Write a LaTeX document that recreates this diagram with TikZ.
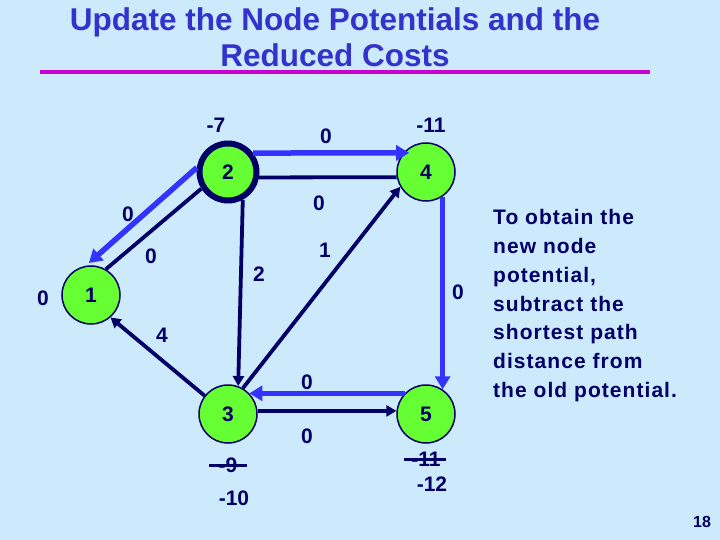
\documentclass[tikz,border=0pt]{standalone}
\usepackage{fontspec}
\setmainfont{Liberation Sans}
\usetikzlibrary{positioning,arrows.meta}
\definecolor{bgblue}{RGB}{204,234,252}
\definecolor{navy}{RGB}{0,0,102}
\definecolor{arcblue}{RGB}{51,51,255}
\definecolor{titleblue}{RGB}{51,51,204}
\definecolor{nodegreen}{RGB}{102,255,51}
\definecolor{rulemagenta}{RGB}{200,0,210}
\tikzset{
  vert/.style={circle,draw=navy,fill=nodegreen,line width=1.5pt,minimum size=58pt,inner sep=0pt,
    font=\fontsize{21}{25}\selectfont\bfseries,text=navy},
  arc/.style={navy,line width=3.8pt,-{Triangle[length=10pt,width=11pt]}},
  plain/.style={navy,line width=3.8pt},
  tree/.style={arcblue,line width=5.5pt,-{Triangle[length=13pt,width=15pt]}},
  lbl/.style={font=\fontsize{21}{25}\selectfont\bfseries,text=navy,inner sep=1pt},
  title/.style={font=\fontsize{31.5}{36}\selectfont\bfseries,text=titleblue,inner sep=0pt,anchor=base},
  strike/.style={navy,line width=3pt}
}

\begin{document}
\begin{tikzpicture}[x=1pt,y=-1pt]
\fill[bgblue] (0,0) rectangle (720,540);
\useasboundingbox (0,0) rectangle (720,540);

% title and rule
\node[title] (head1) at (335,31) {Update the Node Potentials and the};
\node[title] (head2) at (335,67) {Reduced Costs};
\draw[rulemagenta,line width=4pt] (40,72) -- (650,72);

% vertices
\node[vert,line width=6pt,minimum size=57pt] (n2) at (228,172) {2};
\node[vert] (n4) at (426,172) {4};
\node[vert] (n1) at (91,295) {1};
\node[vert] (n3) at (228,414) {3};
\node[vert] (n5) at (426,414) {5};

% arcs of the network
\draw[plain] (n2.-10) -- (n4.190);
\draw[plain] (n1.60) -- (n2.212);
\draw[arc] (n3.142) -- (n1.-49);
\draw[arc] (n2.-62) -- (n3.70);
\draw[arc] (n3.60) -- (n4.210);
\draw[arc] (n3.6) -- (n5.174);

% shortest path tree
\draw[tree,shorten >=-6pt] (n2.37) -- (n4.140);
\draw[tree,shorten >=4pt] (n2.172) -- (n1.100);
\draw[tree] (n4.-56) -- (n5.56);
\draw[tree] (n5.136) -- (n3.44);

% reduced costs
\node[lbl] (c24t) at (326,136) {0};
\node[lbl] (c24) at (319,203) {0};
\node[lbl] (c21) at (128,214) {0};
\node[lbl] (c12) at (151,256) {0};
\node[lbl] (c23) at (259,274) {2};
\node[lbl] (c34) at (325,250) {1};
\node[lbl] (c31) at (162,335) {4};
\node[lbl] (c45) at (458,292) {0};
\node[lbl] (c53) at (307,382) {0};
\node[lbl] (c35) at (307,436) {0};

% node potentials
\node[lbl] (p2) at (216,125) {-7};
\node[lbl] (p4) at (431,125) {-11};
\node[lbl] (p1) at (43,298) {0};
\node[lbl] (p3old) at (228,465) {-9};
\node[lbl] (p3) at (234,498) {-10};
\node[lbl] (p5old) at (426,459) {-11};
\node[lbl] (p5) at (432,484) {-12};
\draw[strike] ([xshift=-8pt]p3old.west) -- ([xshift=8pt]p3old.east);
\draw[strike] ([xshift=-6pt]p5old.west) -- ([xshift=4pt]p5old.east);

% explanation
\node[font=\fontsize{21}{28.7}\selectfont\bfseries\addfontfeature{LetterSpace=5},text=navy,
  align=left,anchor=north west,inner sep=0pt] (note) at (493,209.5)
  {To obtain the\\new node\\potential,\\subtract the\\shortest path\\distance from\\the old potential.};

\node[font=\fontsize{16}{18}\selectfont\bfseries,text=navy] (page) at (702,522) {18};
\end{tikzpicture}
\end{document}
